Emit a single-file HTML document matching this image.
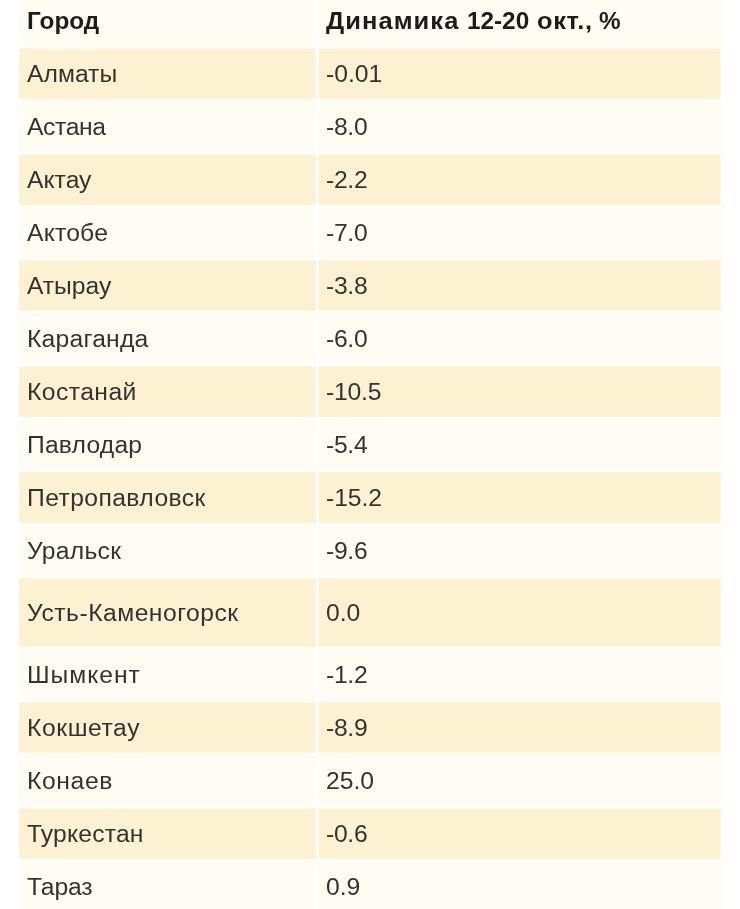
<!DOCTYPE html>
<html><head><meta charset="utf-8"><style>
html,body{margin:0;padding:0;background:#fff;width:740px;height:909px;overflow:hidden;position:relative}
svg{position:absolute;left:0;top:0}
span{position:absolute;display:block;white-space:nowrap;line-height:50px;font-family:"Liberation Sans",sans-serif;font-size:24.7px;color:#333;will-change:transform;transform-origin:0 0}
span.b{font-weight:bold;font-size:24.3px;color:#1c1c1c}
</style></head><body>
<svg width="740" height="909" viewBox="0 0 740 909"><rect x="19.0" y="-10.00" width="297.00" height="56.20" fill="#fefcf3"/><rect x="318.6" y="-10.00" width="402.10" height="56.20" fill="#fefcf3"/><rect x="19.0" y="48.60" width="297.00" height="50.56" fill="#fcf1d0"/><rect x="318.6" y="48.60" width="402.10" height="50.56" fill="#fcf1d0"/><rect x="19.0" y="101.56" width="297.00" height="50.56" fill="#fefcf3"/><rect x="318.6" y="101.56" width="402.10" height="50.56" fill="#fefcf3"/><rect x="19.0" y="154.52" width="297.00" height="50.56" fill="#fcf1d0"/><rect x="318.6" y="154.52" width="402.10" height="50.56" fill="#fcf1d0"/><rect x="19.0" y="207.48" width="297.00" height="50.56" fill="#fefcf3"/><rect x="318.6" y="207.48" width="402.10" height="50.56" fill="#fefcf3"/><rect x="19.0" y="260.44" width="297.00" height="50.56" fill="#fcf1d0"/><rect x="318.6" y="260.44" width="402.10" height="50.56" fill="#fcf1d0"/><rect x="19.0" y="313.40" width="297.00" height="50.56" fill="#fefcf3"/><rect x="318.6" y="313.40" width="402.10" height="50.56" fill="#fefcf3"/><rect x="19.0" y="366.36" width="297.00" height="50.56" fill="#fcf1d0"/><rect x="318.6" y="366.36" width="402.10" height="50.56" fill="#fcf1d0"/><rect x="19.0" y="419.32" width="297.00" height="50.56" fill="#fefcf3"/><rect x="318.6" y="419.32" width="402.10" height="50.56" fill="#fefcf3"/><rect x="19.0" y="472.28" width="297.00" height="50.56" fill="#fcf1d0"/><rect x="318.6" y="472.28" width="402.10" height="50.56" fill="#fcf1d0"/><rect x="19.0" y="525.24" width="297.00" height="50.56" fill="#fefcf3"/><rect x="318.6" y="525.24" width="402.10" height="50.56" fill="#fefcf3"/><rect x="19.0" y="578.20" width="297.00" height="68.60" fill="#fcf1d0"/><rect x="318.6" y="578.20" width="402.10" height="68.60" fill="#fcf1d0"/><rect x="19.0" y="649.20" width="297.00" height="50.65" fill="#fefcf3"/><rect x="318.6" y="649.20" width="402.10" height="50.65" fill="#fefcf3"/><rect x="19.0" y="702.25" width="297.00" height="50.65" fill="#fcf1d0"/><rect x="318.6" y="702.25" width="402.10" height="50.65" fill="#fcf1d0"/><rect x="19.0" y="755.30" width="297.00" height="50.65" fill="#fefcf3"/><rect x="318.6" y="755.30" width="402.10" height="50.65" fill="#fefcf3"/><rect x="19.0" y="808.35" width="297.00" height="50.65" fill="#fcf1d0"/><rect x="318.6" y="808.35" width="402.10" height="50.65" fill="#fcf1d0"/><rect x="19.0" y="861.40" width="297.00" height="58.60" fill="#fefcf3"/><rect x="318.6" y="861.40" width="402.10" height="58.60" fill="#fefcf3"/></svg>
<span class="b" style="left:27px;top:-4px">Город</span>
<span class="b" style="left:326px;top:-4px;letter-spacing:1.0px;transform:scaleX(1.05)">Динамика</span>
<span class="b" style="left:467px;top:-4px">12-20</span>
<span class="b" style="left:537px;top:-4px;letter-spacing:0.6px;transform:scaleX(1.045)">окт.,</span>
<span class="b" style="left:599px;top:-4px">%</span>
<span style="left:27px;top:49px;letter-spacing:0.018px">Алматы</span>
<span style="left:326px;top:49px">-0.01</span>
<span style="left:27px;top:102px;letter-spacing:-0.378px">Астана</span>
<span style="left:326px;top:102px;letter-spacing:-0.3px">-8.0</span>
<span style="left:27px;top:155px;letter-spacing:0.018px">Актау</span>
<span style="left:326px;top:155px;letter-spacing:-0.3px">-2.2</span>
<span style="left:27px;top:208px;letter-spacing:0.198px">Актобе</span>
<span style="left:326px;top:208px;letter-spacing:-0.3px">-7.0</span>
<span style="left:27px;top:261px;letter-spacing:-0.056px">Атырау</span>
<span style="left:326px;top:261px;letter-spacing:-0.3px">-3.8</span>
<span style="left:27px;top:314px;letter-spacing:0.219px">Караганда</span>
<span style="left:326px;top:314px;letter-spacing:-0.3px">-6.0</span>
<span style="left:27px;top:367px;letter-spacing:0.425px">Костанай</span>
<span style="left:326px;top:367px;letter-spacing:-0.2px">-10.5</span>
<span style="left:27px;top:420px;letter-spacing:0.18px">Павлодар</span>
<span style="left:326px;top:420px;letter-spacing:-0.3px">-5.4</span>
<span style="left:27px;top:473px;letter-spacing:0.404px">Петропавловск</span>
<span style="left:326px;top:473px;letter-spacing:-0.05px">-15.2</span>
<span style="left:27px;top:526px;letter-spacing:0.25px">Уральск</span>
<span style="left:326px;top:526px;letter-spacing:-0.3px">-9.6</span>
<span style="left:27px;top:588px;letter-spacing:0.475px">Усть-Каменогорск</span>
<span style="left:326px;top:588px">0.0</span>
<span style="left:27px;top:650px;letter-spacing:0.952px">Шымкент</span>
<span style="left:326px;top:650px;letter-spacing:-0.3px">-1.2</span>
<span style="left:27px;top:703px;letter-spacing:0.577px">Кокшетау</span>
<span style="left:326px;top:703px;letter-spacing:-0.3px">-8.9</span>
<span style="left:27px;top:756px;letter-spacing:0.603px">Конаев</span>
<span style="left:326px;top:756px">25.0</span>
<span style="left:27px;top:809px;letter-spacing:0.18px">Туркестан</span>
<span style="left:326px;top:809px;letter-spacing:-0.3px">-0.6</span>
<span style="left:27px;top:862px;letter-spacing:-0.141px">Тараз</span>
<span style="left:326px;top:862px">0.9</span>
</body></html>
